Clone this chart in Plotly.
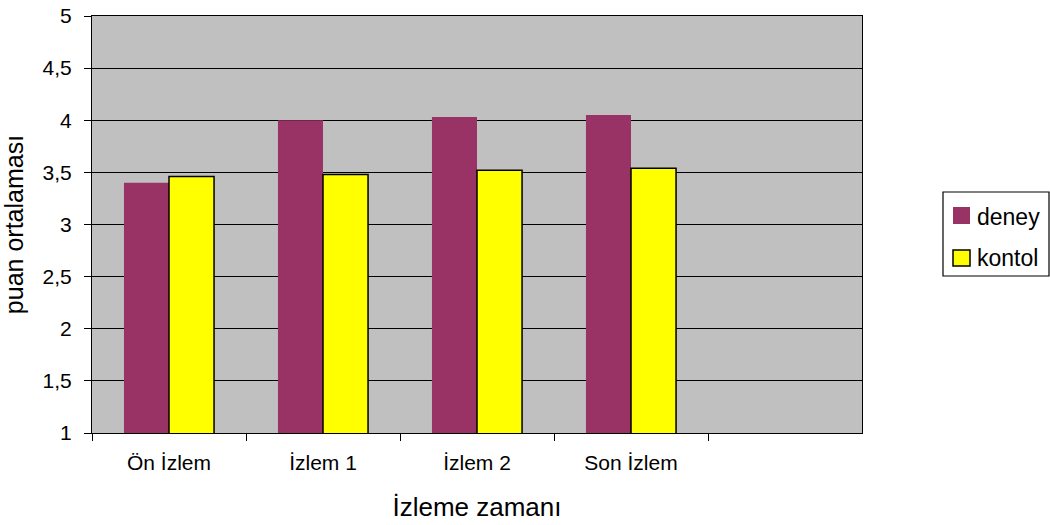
import plotly.graph_objects as go

# Measurement times (the fifth slot on the axis stays empty)
categories = ["Ön İzlem", "İzlem 1", "İzlem 2", "Son İzlem"]
deney = [3.40, 4.00, 4.03, 4.05]
kontol = [3.46, 3.48, 3.52, 3.54]
y_ticks = [1, 1.5, 2, 2.5, 3, 3.5, 4, 4.5, 5]
y_tick_text = ["1", "1,5", "2", "2,5", "3", "3,5", "4", "4,5", "5"]
series_names = ["deney", "kontol"]
series_colors = ["#993366", "#FFFF00"]
series_edges = ["#993366", "#000000"]

fig = go.Figure()
for name, vals, col, edge in zip(series_names, [deney, kontol], series_colors, series_edges):
    fig.add_trace(go.Bar(
        name=name, x=categories, y=vals,
        marker=dict(color=col, line=dict(color=edge, width=0 if edge == col else 1.5)),
        showlegend=False,
    ))

font = "Liberation Sans, Arial, sans-serif"

# plot area in pixels: x 92..862, y 16..433
L, R, T, B = 92, 862, 16, 433


def px(x):
    return (x - L) / (R - L)


def py(y):
    return (B - y) / (B - T)


# legend box drawn on the paper, to the right of the plot area
shapes = [dict(type="rect", xref="paper", yref="paper",
               x0=px(943), x1=px(1049), y0=py(276), y1=py(192),
               line=dict(color="black", width=1.2), fillcolor="white")]
annotations = []
rows = [(207, 224, 217), (250, 266, 258)]
for (top, bot, mid), name, col, edge in zip(rows, series_names, series_colors, series_edges):
    shapes.append(dict(type="rect", xref="paper", yref="paper",
                       x0=px(953), x1=px(970), y0=py(bot), y1=py(top),
                       line=dict(color=edge, width=1.5 if edge != col else 0),
                       fillcolor=col))
    annotations.append(dict(text=name, xref="paper", yref="paper",
                            x=px(975), y=py(mid), xanchor="left", yanchor="middle",
                            showarrow=False, font=dict(size=23, family=font)))

fig.update_layout(
    width=1050, height=525,
    margin=dict(l=L, r=1050 - R, t=T, b=525 - B, autoexpand=False),
    paper_bgcolor="white",
    plot_bgcolor="#C0C0C0",
    barmode="group",
    bargap=0.415,
    bargroupgap=0,
    font=dict(family=font, size=20, color="black"),
    showlegend=False,
    shapes=shapes,
    annotations=annotations,
)
fig.update_xaxes(
    type="category",
    range=[-0.5, 4.5],
    tickson="boundaries",
    ticks="outside", ticklen=7, tickcolor="black", tickwidth=1,
    showline=True, linecolor="black", linewidth=1, mirror=True,
    showgrid=False,
    tickfont=dict(size=21),
    ticklabelstandoff=11,
    title=dict(text="İzleme zamanı", font=dict(size=26), standoff=24),
)
fig.update_yaxes(
    range=[1, 5],
    tickvals=y_ticks, ticktext=y_tick_text,
    ticks="outside", ticklen=7, tickcolor="black", tickwidth=1,
    showline=True, linecolor="black", linewidth=1, mirror=True,
    showgrid=True, gridcolor="black", gridwidth=1,
    tickfont=dict(size=21),
    ticklabelstandoff=8,
    title=dict(text="puan ortalaması", font=dict(size=25), standoff=14),
)

fig.write_html("out.html")
